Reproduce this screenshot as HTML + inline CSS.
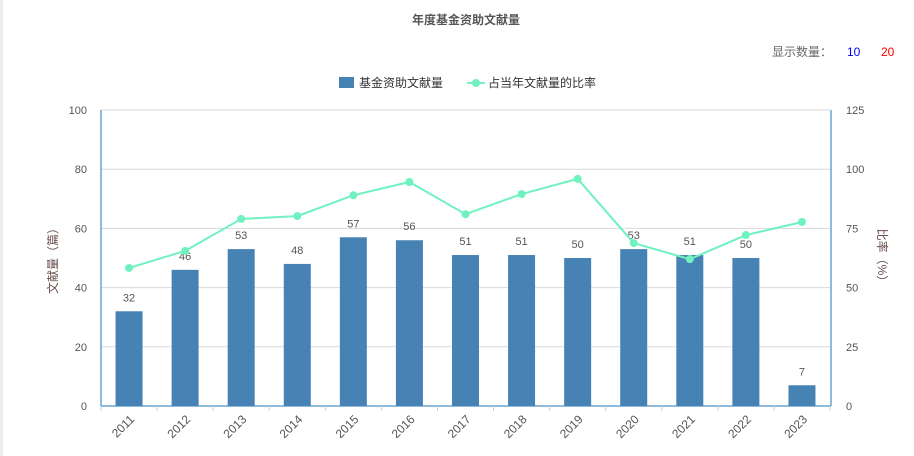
<!DOCTYPE html>
<html><head><meta charset="utf-8"><style>
body{margin:0;background:#fff;width:914px;height:456px;overflow:hidden;font-family:"Liberation Sans","Noto Sans CJK SC",sans-serif;}
</style></head><body>
<div style="position:absolute;left:0;top:0;width:3px;height:456px;background:#ececec"></div>
<svg id="c" width="914" height="456" style="position:absolute;left:0;top:0;font-family:'Liberation Sans','Noto Sans CJK SC',sans-serif">
<text x="466" y="24" font-size="12" font-weight="bold" fill="#555" text-anchor="middle">年度基金资助文献量</text>
<text x="772" y="56" font-size="12" fill="#666">显示数量：</text>
<text x="847" y="56" font-size="12" fill="#0000ff" style="cursor:pointer">10</text>
<text x="881" y="56" font-size="12" fill="#ff0000" style="cursor:pointer">20</text>
<g>
<rect x="339" y="77" width="15" height="11" fill="#4682b4"/>
<text x="359" y="87" font-size="12" fill="#333">基金资助文献量</text>
<line x1="467" y1="83" x2="485" y2="83" stroke="#6ff2c0" stroke-width="2"/>
<circle cx="476" cy="83" r="4" fill="#6ff2c0"/>
<text x="488" y="87" font-size="12" fill="#333">占当年文献量的比率</text>
</g>
<text transform="translate(57,258) rotate(-90)" font-size="12" fill="#6b4f4f" text-anchor="middle">文献量（篇）</text>
<text transform="translate(878,258) rotate(90)" font-size="12" fill="#6b4f4f" text-anchor="middle">比率（%）</text>
</svg>
<script>
const years=["2011","2012","2013","2014","2015","2016","2017","2018","2019","2020","2021","2022","2023"];
const counts=[32,46,53,48,57,56,51,51,50,53,51,50,7];
const ratios=[58.3,65.5,79,80.2,89,94.6,81,89.5,95.9,68.8,62,72.2,77.7];
const leftTicks=[0,20,40,60,80,100];
const rightTicks=[0,25,50,75,100,125];
const svg=document.getElementById('c');const NS='http://www.w3.org/2000/svg';
const X0=101,X1=830,Y0=406,Y1=110;
const band=(X1-X0)/years.length;
const yL=v=>Y0-(v/100)*(Y0-Y1);
const yR=v=>Y0-(v/125)*(Y0-Y1);
const xC=i=>X0+band*(i+0.5);
function mk(t,a,txt){const e=document.createElementNS(NS,t);for(const k in a)e.setAttribute(k,a[k]);if(txt!==undefined)e.textContent=txt;svg.appendChild(e);return e;}
leftTicks.forEach((v,i)=>{
 if(v>0){const g=mk('line',{x1:X0,x2:X1,y1:yL(v),y2:yL(v),stroke:'#d9d9d9'});
 
 }
 const t=mk('text',{x:X0-14,y:yL(v)+4,'font-size':11,fill:'#555','text-anchor':'end'},v);
 
 
});
rightTicks.forEach(v=>{
 const t=mk('text',{x:X1+16,y:yR(v)+4,'font-size':11,fill:'#555','text-anchor':'start'},v);
 
 
});
let a=mk('line',{x1:X0,x2:X0,y1:Y1,y2:Y0,stroke:'#1f7ab8'});


a=mk('line',{x1:X1+1,x2:X1+1,y1:Y1,y2:Y0,stroke:'#1f7ab8'});


a=mk('line',{x1:X0,x2:X1+1,y1:Y0,y2:Y0,stroke:'#1f7ab8'});


for(let i=0;i<=years.length;i++){const tk=mk('line',{x1:X0+band*i,x2:X0+band*i,y1:Y0,y2:Y0+5,stroke:'#c8d0d8'});
 
 }
const bw=27;
years.forEach((y,i)=>{
 const b=mk('rect',{x:xC(i)-bw/2,y:yL(counts[i]),width:bw,height:Y0-yL(counts[i]),fill:'#4682b4'});
 
 
 const l=mk('text',{x:xC(i),y:yL(counts[i])-10,'font-size':11,fill:'#555','text-anchor':'middle'},counts[i]);
 
 
 const xl=mk('text',{transform:`translate(${xC(i)+6},${Y0+14}) rotate(-45)`,'font-size':12,fill:'#555','text-anchor':'end'},y);
 
 
});
const pl=mk('polyline',{points:ratios.map((v,i)=>xC(i)+','+yR(v)).join(' '),fill:'none',stroke:'#6ff2c0','stroke-width':2});


ratios.forEach((v,i)=>{
 const c=mk('circle',{cx:xC(i),cy:yR(v),r:4,fill:'#6ff2c0'});
 
 
});
</script>
</body></html>
